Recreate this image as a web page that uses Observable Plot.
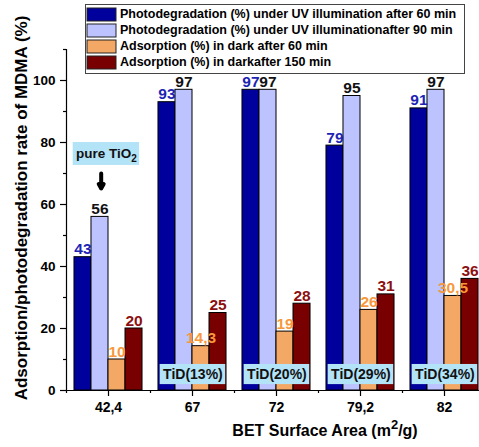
<!DOCTYPE html>
<html><head><meta charset="utf-8">
<script src="https://cdn.jsdelivr.net/npm/d3@7"></script>
<script src="https://cdn.jsdelivr.net/npm/@observablehq/plot@0.6"></script>
<style>
body{margin:0;background:#fff;overflow:hidden;}
#chart{position:relative;width:479px;height:447px;font-family:"Liberation Sans",Arial,sans-serif;}
#legendBox{position:absolute;left:85px;top:4px;width:377px;height:66px;border:1px solid #444;background:#fff;padding:2px 0 0 1px;box-sizing:content-box;}
#legendBox .lg-swatches{font:bold 12.5px "Liberation Sans",Arial,sans-serif;color:#000;margin:0;}
#legendBox .lg-swatch{padding-bottom:2px;height:14px;}
#legendBox .lg-swatch > svg{margin-right:4px;}
#legendBox .lg-swatch svg rect{stroke:#222;stroke-width:1;}
</style></head><body><div id="chart"></div>
<script>
const categories = ["42,4", "67", "72", "79,2", "82"];
const seriesNames = [
  "Photodegradation (%) under UV illumination after 60 min",
  "Photodegradation (%) under UV illuminationafter 90 min",
  "Adsorption (%) in dark after 60 min",
  "Adsorption (%) in darkafter 150 min"
];
const uv60 = [43, 93, 97, 79, 91];
const uv90 = [56, 97, 97, 95, 97];
const dark60 = [10, 14.3, 19, 26, 30.5];
const dark150 = [20, 25, 28, 31, 36];
const uv60Labels = ["43", "93", "97", "79", "91"];
const uv90Labels = ["56", "97", "97", "95", "97"];
const dark60Labels = ["10", "14,3", "19", "26", "30,5"];
const dark150Labels = ["20", "25", "28", "31", "36"];
const barColors = ["#00009c", "#bcc3ff", "#f4a865", "#780000"];
const labelColors = ["#1c24b4", "#111111", "#f7983c", "#8c1010"];
const sampleNames = ["TiD(13%)", "TiD(20%)", "TiD(29%)", "TiD(34%)"];
const sampleIdx = [1, 2, 3, 4];
const pureLabel = "pure TiO2";
const yMajor = [0, 20, 40, 60, 80, 100];
const yMinor = [10, 30, 50, 70, 90, 110];
const xMinor = [-0.5, 0.5, 1.5, 2.5, 3.5];
const yTitle = "Adsorption/photodegradation rate of MDMA (%)";
const xTitle = "BET Surface Area (m2/g)";

const groupWidth = 0.81;
const allValues = [uv60, uv90, dark60, dark150];
const allLabels = [uv60Labels, uv90Labels, dark60Labels, dark150Labels];
const bars = [];
allValues.forEach((vals, si) => vals.forEach((v, ci) => {
  const w = groupWidth / 4;
  const x1 = ci - groupWidth / 2 + si * w;
  bars.push({ci, si, series: seriesNames[si], value: v, label: allLabels[si][ci], x1, x2: x1 + w, xm: x1 + w / 2});
}));

const boxes = sampleIdx.map((ci, k) => ({name: sampleNames[k], x1: ci - 0.385, x2: ci + 0.395, y1: 1.9, y2: 8.4, xm: ci + 0.005, ym: 5.15}));
const pureBox = [{name: pureLabel, x1: -0.42, x2: 0.37, y1: 72.6, y2: 80, xm: -0.025, ym: 76.3}];
const pureArrow = [{x: -0.087, y1: 70, y2: 65.2}];

const labelMarks = [0, 1, 2, 3].map(si => Plot.text(bars.filter(d => d.si === si), {
  x: "xm", y: "value", text: "label", lineAnchor: "bottom", dy: -3,
  fill: labelColors[si], fontSize: 15.5, fontWeight: "bold"
}));

const plot = Plot.plot({
  width: 479, height: 447,
  marginLeft: 66, marginRight: 0, marginTop: 49, marginBottom: 57,
  style: {fontFamily: "'Liberation Sans', Arial, sans-serif", background: "white", color: "#000"},
  x: {domain: [-0.5, 4.5], range: [66, 486], axis: null},
  y: {domain: [0, 110], axis: null},
  color: {domain: seriesNames, range: barColors},
  marks: [
    Plot.rectY(bars, {x1: "x1", x2: "x2", y1: 0, y2: "value", fill: "series", stroke: "#000", strokeWidth: 1}),
    ...labelMarks,
    Plot.rect(boxes, {x1: "x1", x2: "x2", y1: "y1", y2: "y2", fill: "#b3e3f7"}),
    Plot.text(boxes, {x: "xm", y: "ym", text: "name", fontSize: 14, fontWeight: "bold", fill: "#111"}),
    Plot.rect(pureBox, {x1: "x1", x2: "x2", y1: "y1", y2: "y2", fill: "#b3e3f7"}),
    Plot.text(pureBox, {x: "xm", y: "ym", text: "name", fontSize: 13.5, fontWeight: "bold", fill: "#111", className: "pure-label"}),
    Plot.arrow(pureArrow, {x: "x", y1: "y1", y2: "y2", stroke: "#000", strokeWidth: 4, headLength: 6}),
    Plot.ruleY([0], {stroke: "#000", strokeWidth: 1.2}),
    Plot.ruleX([-0.5], {y1: 0, y2: 110, stroke: "#000", strokeWidth: 1.2}),
    Plot.axisY({ticks: yMajor, tickSize: 6, tickPadding: 5, fontSize: 13.5, fontWeight: "bold", label: null, strokeWidth: 1.2}),
    Plot.axisY({ticks: yMinor, tickSize: 3, tickFormat: () => "", label: null, strokeWidth: 1.2}),
    Plot.axisX({ticks: [0, 1, 2, 3, 4], tickFormat: i => categories[i], tickSize: 6, tickPadding: 6, fontSize: 14, fontWeight: "bold", label: null, strokeWidth: 1.2}),
    Plot.axisX({ticks: xMinor, tickSize: 3, tickFormat: () => "", label: null, strokeWidth: 1.2}),
    Plot.text([yTitle], {frameAnchor: "left", textAnchor: "middle", rotate: -90, dx: -45, dy: -12, fontSize: 17, fontWeight: "bold", fill: "#000"}),
    Plot.text([xTitle], {frameAnchor: "bottom", textAnchor: "middle", dx: 52, dy: 45, fontSize: 16, fontWeight: "bold", fill: "#000", className: "xtitle"})
  ]
});
const chart = document.getElementById("chart");
chart.appendChild(plot);

// typographic superscript / subscript with tspans (text stays real text)
function splitScript(textEl, before, mid, after, shift, size) {
  textEl.textContent = "";
  const ns = "http://www.w3.org/2000/svg";
  const a = document.createElementNS(ns, "tspan"); a.textContent = before; textEl.appendChild(a);
  const b = document.createElementNS(ns, "tspan"); b.textContent = mid; b.setAttribute("dy", shift); b.setAttribute("font-size", size); textEl.appendChild(b);
  if (after) { const c = document.createElementNS(ns, "tspan"); c.textContent = after; c.setAttribute("dy", -shift); textEl.appendChild(c); }
}
plot.querySelectorAll("text").forEach(t => {
  if (t.textContent === xTitle) splitScript(t, "BET Surface Area (m", "2", "/g)", -7, 13);
  else if (t.textContent === pureLabel) splitScript(t, "pure TiO", "2", "", 4, 10);
});

const legend = Plot.legend({
  color: {domain: seriesNames, range: barColors},
  legend: "swatches", columns: 1, swatchWidth: 29, swatchHeight: 13, className: "lg"
});
const box = document.createElement("div");
box.id = "legendBox";
box.appendChild(legend);
chart.appendChild(box);
</script></body></html>
